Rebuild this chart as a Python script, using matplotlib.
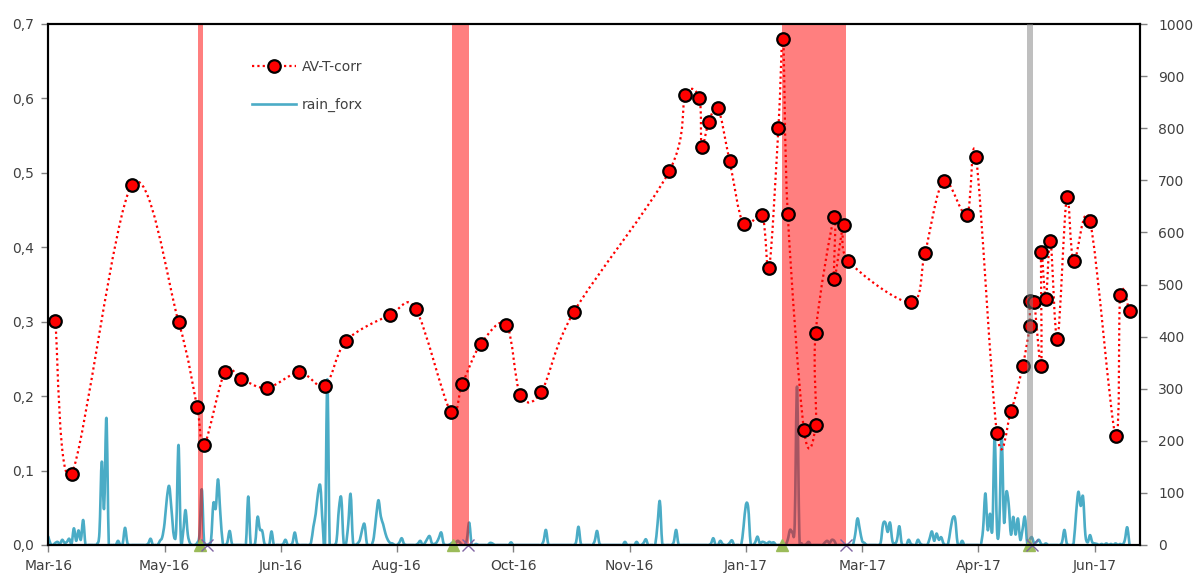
import numpy as np
import pandas as pd
import matplotlib
matplotlib.use("Agg")
import matplotlib.pyplot as plt
import matplotlib.dates as mdates
from matplotlib.path import Path
from matplotlib.patches import PathPatch
from matplotlib.lines import Line2D
from matplotlib.ticker import FuncFormatter, MultipleLocator, FixedLocator

# ---------------- data ----------------
corr_dates = [
    "2016-03-21", "2016-03-28", "2016-04-23", "2016-05-13", "2016-05-21", "2016-05-24",
    "2016-06-02", "2016-06-09", "2016-06-20", "2016-07-04", "2016-07-15", "2016-07-24",
    "2016-08-12", "2016-08-23", "2016-09-07", "2016-09-12", "2016-09-20", "2016-10-01",
    "2016-10-07", "2016-10-16", "2016-10-30", "2016-12-10", "2016-12-17", "2016-12-23",
    "2016-12-24", "2016-12-27", "2016-12-31", "2017-01-05", "2017-01-11", "2017-01-19",
    "2017-01-22", "2017-01-26", "2017-01-28", "2017-01-30", "2017-02-06", "2017-02-11",
    "2017-02-11", "2017-02-19", "2017-02-19", "2017-02-23", "2017-02-25", "2017-03-24",
    "2017-03-30", "2017-04-07", "2017-04-17", "2017-04-21", "2017-04-30", "2017-05-06",
    "2017-05-11", "2017-05-14", "2017-05-14", "2017-05-16", "2017-05-19", "2017-05-19",
    "2017-05-21", "2017-05-23", "2017-05-26", "2017-05-30", "2017-06-02", "2017-06-09",
    "2017-06-20", "2017-06-22", "2017-06-26",
]
corr_values = [
    0.301, 0.096, 0.484, 0.300, 0.185, 0.134,
    0.233, 0.223, 0.211, 0.232, 0.214, 0.274,
    0.309, 0.317, 0.179, 0.216, 0.270, 0.296,
    0.202, 0.206, 0.313, 0.502, 0.604, 0.600,
    0.535, 0.568, 0.587, 0.516, 0.431, 0.443,
    0.372, 0.560, 0.680, 0.445, 0.154, 0.161,
    0.285, 0.441, 0.357, 0.430, 0.382, 0.326,
    0.392, 0.489, 0.443, 0.521, 0.150, 0.180,
    0.240, 0.294, 0.328, 0.326, 0.240, 0.394,
    0.331, 0.409, 0.277, 0.467, 0.381, 0.435,
    0.147, 0.336, 0.314,
]

rain_start = "2016-03-18"   # first daily value of rain_forx
rain_values = [
    16, 2, 0, 4, 6, 2, 10, 4, 6, 12,
    2, 32, 8, 28, 10, 48, 0, 0, 0, 0,
    0, 2, 25, 160, 70, 244, 5, 0, 0, 0,
    8, 0, 3, 33, 4, 0, 0, 0, 0, 0,
    0, 0, 0, 3, 12, 0, 0, 0, 8, 15,
    42, 90, 113, 67, 18, 30, 192, 10, 25, 67,
    20, 3, 0, 0, 4, 20, 107, 5, 0, 2,
    10, 80, 70, 126, 60, 5, 0, 5, 27, 2,
    0, 0, 0, 0, 0, 3, 93, 3, 0, 5,
    54, 30, 27, 2, 0, 0, 26, 0, 0, 0,
    0, 2, 10, 0, 0, 4, 24, 3, 0, 0,
    0, 0, 0, 5, 35, 60, 100, 113, 40, 3,
    318, 3, 0, 0, 10, 70, 90, 5, 2, 40,
    98, 8, 0, 3, 10, 30, 40, 3, 0, 0,
    15, 55, 86, 55, 40, 22, 10, 4, 3, 0,
    0, 5, 13, 2, 0, 0, 0, 0, 0, 3,
    8, 0, 4, 12, 17, 3, 2, 5, 14, 24,
    3, 0, 0, 2, 5, 3, 8, 5, 0, 0,
    10, 43, 3, 0, 2, 0, 0, 0, 0, 0,
    4, 3, 0, 0, 0, 0, 0, 0, 0, 5,
    0, 0, 0, 0, 0, 0, 0, 0, 0, 0,
    0, 0, 0, 8, 29, 2, 0, 0, 0, 0,
    0, 0, 0, 0, 0, 0, 0, 6, 35, 3,
    0, 0, 0, 0, 0, 8, 27, 3, 0, 0,
    0, 0, 0, 0, 0, 0, 0, 0, 6, 0,
    0, 0, 0, 6, 0, 0, 4, 11, 0, 0,
    0, 0, 40, 84, 5, 0, 0, 0, 0, 6,
    29, 2, 0, 0, 0, 0, 0, 0, 0, 0,
    0, 0, 0, 0, 0, 3, 13, 0, 0, 8,
    2, 0, 0, 4, 9, 0, 0, 0, 0, 35,
    77, 72, 5, 0, 5, 16, 3, 6, 5, 2,
    6, 4, 5, 0, 0, 0, 0, 0, 10, 29,
    25, 40, 304, 20, 3, 0, 2, 6, 0, 0,
    0, 0, 0, 0, 5, 8, 4, 10, 8, 0,
    0, 0, 0, 0, 0, 0, 0, 20, 51, 30,
    8, 4, 0, 0, 0, 0, 0, 0, 5, 40,
    43, 25, 43, 8, 2, 10, 36, 3, 0, 0,
    10, 2, 0, 0, 10, 3, 0, 0, 0, 12,
    26, 8, 22, 10, 15, 3, 0, 3, 30, 52,
    50, 5, 0, 8, 0, 0, 0, 0, 0, 0,
    0, 0, 30, 99, 29, 60, 30, 211, 29, 40,
    211, 45, 102, 80, 20, 54, 20, 51, 10, 30,
    54, 3, 10, 15, 3, 6, 10, 2, 0, 3,
    0, 0, 0, 0, 0, 0, 6, 29, 3, 0,
    0, 5, 60, 102, 75, 93, 20, 5, 19, 5,
    3, 2, 0, 2, 0, 3, 0, 2, 0, 3,
    0, 2, 0, 10, 34, 0,
]

# shaded event periods (start, end) and their colour class
event_starts = ["2016-05-21 12:00", "2016-09-07 14:00", "2017-01-27 12:00", "2017-05-12 22:00"]
event_ends   = ["2016-05-23 17:00", "2016-09-14 22:00", "2017-02-24 00:00", "2017-05-15 12:00"]
event_kind   = ["red", "red", "red", "grey"]
start_marks  = ["2016-05-22 04:00", "2016-09-08 04:00", "2017-01-27 16:00", "2017-05-13 20:00"]
end_marks    = ["2016-05-25 02:00", "2016-09-14 14:00", "2017-02-24 00:00", "2017-05-15 02:00"]

axis_start = "2016-03-18"
axis_days = 469.5
tick_step_days = 50
left_ticks = [0.0, 0.1, 0.2, 0.3, 0.4, 0.5, 0.6, 0.7]
right_ticks = [0, 100, 200, 300, 400, 500, 600, 700, 800, 900, 1000]

# ---------------- helpers ----------------
def smooth_path(x, y):
    pts = np.column_stack([x, y]).astype(float)
    n = len(pts)
    verts = [pts[0]]
    codes = [Path.MOVETO]
    for i in range(n - 1):
        p0 = pts[i - 1] if i > 0 else pts[i]
        p1 = pts[i]
        p2 = pts[i + 1]
        p3 = pts[i + 2] if i + 2 < n else pts[i + 1]
        c1 = p1 + (p2 - p0) / 6.0
        c2 = p2 - (p3 - p1) / 6.0
        verts += [c1, c2, p2]
        codes += [Path.CURVE4] * 3
    return Path(np.array(verts), codes)

# ---------------- figure ----------------
plt.rcParams['font.family'] = ['DejaVu Sans']
fig = plt.figure(figsize=(11.93, 5.75), dpi=100)
ax = fig.add_axes([48.3 / 1193, 30 / 575, (1140 - 48.3) / 1193, (545 - 24) / 575])
ax2 = ax.twinx()

x0 = mdates.date2num(pd.Timestamp(axis_start))
ax.set_xlim(x0, x0 + axis_days)
ax.set_ylim(0, 1000)
ax2.set_ylim(0, 0.7)

# rain (right axis, drawn underneath)
rain_dates = mdates.date2num(pd.date_range(rain_start, periods=len(rain_values), freq="D"))
rain_patch = PathPatch(smooth_path(rain_dates, rain_values), fill=False,
                       edgecolor="#4BACC6", lw=1.9, zorder=2, capstyle="round", joinstyle="round")
ax.add_patch(rain_patch)

# red event spans over the rain line
for s, e, k in zip(event_starts, event_ends, event_kind):
    s_n = mdates.date2num(pd.Timestamp(s))
    e_n = mdates.date2num(pd.Timestamp(e))
    if k == "red":
        ax.axvspan(s_n, e_n, color=(1.0, 0.0, 0.0), alpha=0.5, lw=0, zorder=3)

# AV-T-corr (left axis)
cx = mdates.date2num(pd.to_datetime(corr_dates))
corr_patch = PathPatch(smooth_path(cx, corr_values), fill=False, edgecolor="#FF0000",
                       lw=1.6, linestyle=(0, (1, 1.4)), zorder=3)
ax2.add_patch(corr_patch)
ax2.plot(cx, corr_values, linestyle="none", marker="o", markersize=9,
         markerfacecolor="#FF0000", markeredgecolor="black", markeredgewidth=1.6, zorder=4)

# baseline series + start / end markers
end_n = mdates.date2num(pd.to_datetime(end_marks))
ax2.plot([x0, end_n[-1]], [0, 0], color="#8064A2", lw=1.5, zorder=2.5, clip_on=False)
ax2.plot(mdates.date2num(pd.to_datetime(start_marks)), [0] * len(start_marks), linestyle="none",
         marker="^", markersize=9, color="#9BBB59", zorder=6, clip_on=False)
ax2.plot(end_n, [0] * len(end_marks), linestyle="none", marker="x", markersize=9,
         markeredgewidth=1.0, color="#8064A2", zorder=6, clip_on=False)

# grey span on top
for s, e, k in zip(event_starts, event_ends, event_kind):
    if k == "grey":
        ax2.axvspan(mdates.date2num(pd.Timestamp(s)), mdates.date2num(pd.Timestamp(e)),
                    color=(0.5, 0.5, 0.5), alpha=0.5, lw=0, zorder=5)

# ---------------- axes styling ----------------
xticks = [x0 + i * tick_step_days for i in range(10)]
ax.xaxis.set_major_locator(FixedLocator(xticks))
ax.xaxis.set_major_formatter(mdates.DateFormatter("%b-%y"))
ax.tick_params(axis="x", direction="out", length=5, width=1, color="#808080",
               labelsize=10, labelcolor="#404040", pad=5)

ax.yaxis.tick_right()
ax.yaxis.set_major_locator(FixedLocator(right_ticks))
ax.yaxis.set_major_formatter(FuncFormatter(lambda v, p: f"{int(round(v))}"))
ax.tick_params(axis="y", direction="out", length=5, width=1, color="#808080",
               labelsize=10, labelcolor="#404040", pad=8, right=True, left=False,
               labelright=True, labelleft=False)

ax2.yaxis.tick_left()
ax2.yaxis.set_major_locator(FixedLocator(left_ticks))
ax2.yaxis.set_major_formatter(FuncFormatter(lambda v, p: f"{v:.1f}".replace(".", ",")))
ax2.tick_params(axis="y", direction="out", length=5, width=1, color="#808080",
                labelsize=10, labelcolor="#404040", pad=5, left=True, right=False,
                labelleft=True, labelright=False)

for a in (ax, ax2):
    for sp in a.spines.values():
        sp.set_color("black")
        sp.set_linewidth(1.5)
ax2.spines["bottom"].set_zorder(7)

# legend
handles = [
    Line2D([], [], color="#FF0000", lw=1.6, linestyle=(0, (1, 1.4)), marker="o",
           markersize=9, markerfacecolor="#FF0000", markeredgecolor="black", markeredgewidth=1.6),
    Line2D([], [], color="#4BACC6", lw=1.9),
]
ax2.legend(handles, ["AV-T-corr", "rain_forx"], loc="upper left",
           bbox_to_anchor=(252 / 1193, 1 - 60 / 575), bbox_transform=fig.transFigure,
           frameon=False, fontsize=10, handlelength=3.2, handletextpad=0.4,
           labelspacing=1.75, borderpad=0, borderaxespad=0, labelcolor="#404040")

fig.savefig("out.png", dpi=100, facecolor="white")
